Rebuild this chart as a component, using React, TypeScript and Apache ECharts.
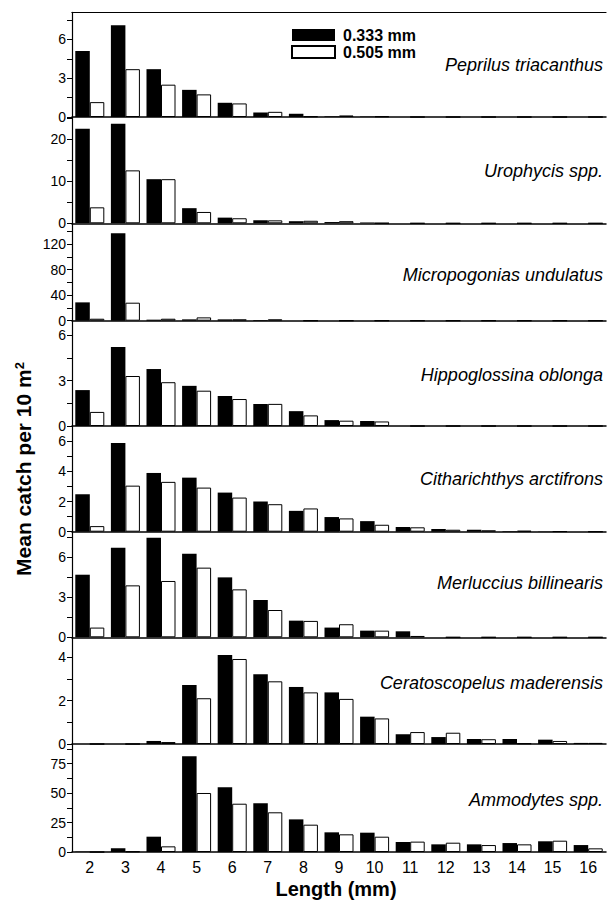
import React, { useEffect, useRef } from 'react';
import * as echarts from 'echarts';

const FONT = '"Liberation Sans", Arial, Helvetica, sans-serif';

// Length classes (mm)
const lengths = ['2', '3', '4', '5', '6', '7', '8', '9', '10', '11', '12', '13', '14', '15', '16'];

// Species names
const speciesNames = [
  'Peprilus triacanthus',
  'Urophycis spp.',
  'Micropogonias undulatus',
  'Hippoglossina oblonga',
  'Citharichthys arctifrons',
  'Merluccius billinearis',
  'Ceratoscopelus maderensis',
  'Ammodytes spp.',
];

// Mean catch per 10 m^2, 0.333 mm mesh (black) and 0.505 mm mesh (white)
const peprilusBlack = [5.1, 7.1, 3.7, 2.1, 1.1, 0.35, 0.25, 0.05, 0.03, 0, 0, 0, 0, 0, 0];
const peprilusWhite = [1.15, 3.7, 2.5, 1.75, 1.05, 0.4, 0.05, 0.12, 0.05, 0, 0, 0, 0, 0, 0];
const urophycisBlack = [22.5, 23.7, 10.5, 3.6, 1.35, 0.7, 0.5, 0.3, 0.2, 0, 0, 0, 0, 0, 0];
const urophycisWhite = [3.8, 12.6, 10.5, 2.7, 1.2, 0.7, 0.6, 0.5, 0.05, 0, 0, 0, 0, 0, 0];
const micropogoniasBlack = [28.7, 136.8, 1.6, 2.1, 2.1, 1.0, 0, 0, 0, 0, 0, 0, 0, 0, 0];
const micropogoniasWhite = [3.1, 28.2, 3.1, 5.2, 2.1, 2.1, 0, 0, 0, 0, 0, 0, 0, 0, 0];
const hippoglossinaBlack = [2.37, 5.22, 3.76, 2.65, 1.98, 1.46, 0.98, 0.39, 0.33, 0, 0, 0, 0, 0, 0];
const hippoglossinaWhite = [0.93, 3.3, 2.89, 2.33, 1.78, 1.46, 0.7, 0.35, 0.3, 0, 0, 0, 0, 0, 0];
const citharichthysBlack = [2.48, 5.87, 3.89, 3.58, 2.59, 2.0, 1.38, 0.97, 0.7, 0.31, 0.18, 0.13, 0.04, 0.02, 0];
const citharichthysWhite = [0.37, 3.05, 3.3, 2.92, 2.26, 1.82, 1.54, 0.88, 0.46, 0.29, 0.13, 0.09, 0.06, 0.02, 0];
const merlucciusBlack = [4.7, 6.73, 7.48, 6.28, 4.5, 2.8, 1.25, 0.73, 0.5, 0.45, 0, 0, 0, 0, 0];
const merlucciusWhite = [0.73, 3.9, 4.23, 5.23, 3.6, 2.05, 1.23, 0.98, 0.5, 0.1, 0, 0, 0, 0, 0];
const ceratoscopelusBlack = [0, 0, 0.14, 2.72, 4.1, 3.22, 2.63, 2.38, 1.26, 0.45, 0.32, 0.23, 0.23, 0.2, 0.05];
const ceratoscopelusWhite = [0, 0, 0.09, 2.11, 3.92, 2.89, 2.38, 2.08, 1.18, 0.55, 0.52, 0.22, 0.03, 0.14, 0.05];
const ammodytesBlack = [0.3, 3.1, 13, 81.2, 54.9, 41.3, 27.7, 16.7, 16.4, 8.5, 6.5, 6.5, 7.6, 9.1, 5.9];
const ammodytesWhite = [0, 0.5, 4.8, 50.1, 41, 33.7, 23.2, 15, 13, 8.8, 7.9, 5.9, 6.5, 9.6, 3.1];

// Y-axis tick labels and tick marks per panel
const labels1 = [0, 3, 6];
const ticks1 = [0, 1.5, 3, 4.5, 6, 7.5];
const labels2 = [0, 10, 20];
const ticks2 = [0, 5, 10, 15, 20, 25];
const labels3 = [0, 40, 80, 120];
const ticks3 = [0, 20, 40, 60, 80, 100, 120, 140];
const labels4 = [0, 3, 6];
const ticks4 = [0, 1.5, 3, 4.5, 6];
const labels5 = [0, 2, 4, 6];
const ticks5 = [0, 1, 2, 3, 4, 5, 6];
const labels6 = [0, 3, 6];
const ticks6 = [0, 1.5, 3, 4.5, 6, 7.5];
const labels7 = [0, 2, 4];
const ticks7 = [0, 1, 2, 3, 4];
const labels8 = [0, 25, 50, 75];
const ticks8 = [0, 12.5, 25, 37.5, 50, 62.5, 75, 87.5];

const seriesBlack = [peprilusBlack, urophycisBlack, micropogoniasBlack, hippoglossinaBlack, citharichthysBlack, merlucciusBlack, ceratoscopelusBlack, ammodytesBlack];
const seriesWhite = [peprilusWhite, urophycisWhite, micropogoniasWhite, hippoglossinaWhite, citharichthysWhite, merlucciusWhite, ceratoscopelusWhite, ammodytesWhite];
const tickLabels = [labels1, labels2, labels3, labels4, labels5, labels6, labels7, labels8];
const tickMarks = [ticks1, ticks2, ticks3, ticks4, ticks5, ticks6, ticks7, ticks8];
const axisMax = [8.1, 25.3, 152.5, 6.95, 7.0, 7.93, 4.92, 91.7];

// Layout (px)
const panelTops = [12.3, 117, 223.3, 320.7, 426, 531.7, 637.3, 744];
const panelBottoms = [117, 223.3, 320.7, 426, 531.7, 637.3, 744, 852];
const speciesY = [65, 171, 275, 375, 479, 583, 683, 800];

export default function App() {
  const ref = useRef<HTMLDivElement>(null);
  useEffect(() => {
    if (!ref.current) return;
    const chart = echarts.init(ref.current, null, { renderer: 'svg' });
    const grid: any[] = [];
    const xAxis: any[] = [];
    const yAxis: any[] = [];
    const series: any[] = [];
    for (let i = 0; i < 8; i++) {
      grid.push({ left: 72, width: 534, top: panelTops[i], height: panelBottoms[i] - panelTops[i] });
      xAxis.push({
        type: 'category',
        gridIndex: i,
        data: lengths,
        axisLine: { show: true, lineStyle: { color: '#000', width: 1.5 } },
        axisTick: { show: false },
        axisLabel:
          i === 7
            ? { show: true, interval: 0, margin: 7, fontSize: 16, color: '#000', fontFamily: FONT }
            : { show: false },
        splitLine: { show: false },
      });
      yAxis.push({
        type: 'value',
        gridIndex: i,
        min: 0,
        max: axisMax[i],
        axisLine: { show: true, lineStyle: { color: '#000', width: 1.2 } },
        axisTick: { show: true, inside: false, length: 5, lineStyle: { color: '#000', width: 1 }, customValues: tickMarks[i] },
        axisLabel: { show: true, customValues: tickLabels[i], margin: 6, fontSize: 14, color: '#000', fontFamily: FONT },
        splitLine: { show: false },
      });
      series.push({
        type: 'bar',
        name: '0.333 mm',
        xAxisIndex: i,
        yAxisIndex: i,
        data: seriesBlack[i],
        barGap: '0%',
        barCategoryGap: '18.5%',
        itemStyle: { color: '#000' },
      });
      series.push({
        type: 'bar',
        name: '0.505 mm',
        xAxisIndex: i,
        yAxisIndex: i,
        data: seriesWhite[i],
        barGap: '0%',
        barCategoryGap: '18.5%',
        itemStyle: { color: '#fff', borderColor: '#000', borderWidth: 1 },
      });
    }
    // top frame line of first panel
    xAxis.push({
      type: 'category',
      gridIndex: 0,
      position: 'top',
      data: lengths,
      axisLine: { show: true, lineStyle: { color: '#000', width: 1.2 } },
      axisTick: { show: false },
      axisLabel: { show: false },
      splitLine: { show: false },
    });

    const graphic: any[] = speciesNames.map((name, i) => ({
      type: 'text',
      x: 603,
      y: speciesY[i],
      style: {
        text: name,
        align: 'right',
        verticalAlign: 'middle',
        fontFamily: FONT,
        fontStyle: 'italic',
        fontSize: 18,
        fill: '#000',
      },
    }));
    graphic.push({
      type: 'text',
      x: 23,
      y: 469,
      rotation: Math.PI / 2,
      style: {
        text: 'Mean catch per 10 m{sup|2}',
        align: 'center',
        verticalAlign: 'middle',
        fontFamily: FONT,
        fontWeight: 'bold',
        fontSize: 21,
        fill: '#000',
        rich: {
          sup: { fontSize: 13, fontFamily: FONT, fontWeight: 'bold', verticalAlign: 'top', fill: '#000' },
        },
      },
    });
    graphic.push({
      type: 'text',
      x: 336,
      y: 889,
      style: {
        text: 'Length (mm)',
        align: 'center',
        verticalAlign: 'middle',
        fontFamily: FONT,
        fontWeight: 'bold',
        fontSize: 20,
        fill: '#000',
      },
    });

    chart.setOption({
      animation: false,
      backgroundColor: '#fff',
      legend: {
        data: ['0.333 mm', '0.505 mm'],
        orient: 'vertical',
        left: 291,
        top: 27,
        padding: 0,
        itemWidth: 43,
        itemHeight: 12,
        itemGap: 1,
        icon: 'rect',
        selectedMode: false,
        textStyle: { fontSize: 16, fontWeight: 'bold', lineHeight: 16, color: '#000', fontFamily: FONT, padding: [0, 0, 0, 3] },
      },
      grid,
      xAxis,
      yAxis,
      series,
      graphic,
    });
    return () => chart.dispose();
  }, []);
  return <div ref={ref} style={{ position: 'fixed', left: 0, top: 0, width: 609, height: 903, background: '#fff' }} />;
}
